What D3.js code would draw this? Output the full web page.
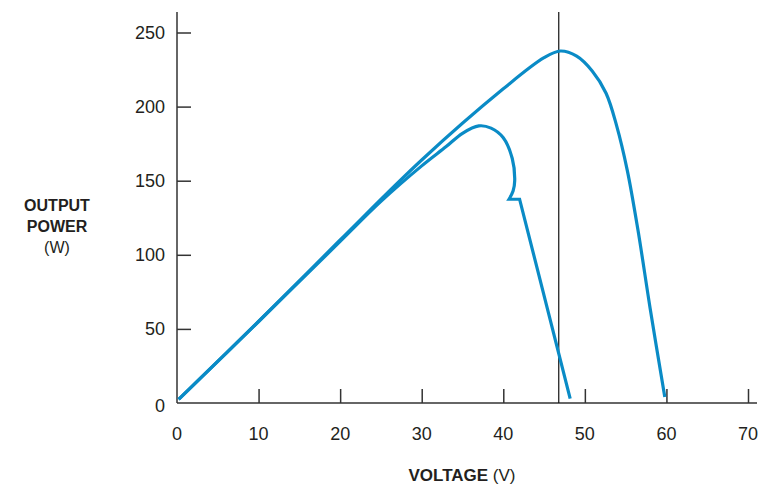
<!DOCTYPE html>
<html><head><meta charset="utf-8">
<script src="https://cdn.jsdelivr.net/npm/d3@7"></script>
<style>body{margin:0;background:#fff}svg{display:block}text{font-family:"Liberation Sans",Arial,sans-serif;fill:#231f20}</style>
</head><body><svg id="c" width="765" height="484"></svg>
<script>
const xTicks = [0,10,20,30,40,50,60,70];
const yTicks = [0,50,100,150,200,250];
const curve1 = [[0.2,2.5],[10,55],[20,110],[30,164],[40,212],[45,233],[47,237.5],[49,234],[50.9,224],[52.6,209],[53.9,187],[55.2,157],[56.5,117],[58,64],[59.8,4]];
const curve2Smooth = [[0.2,2.5],[10,55],[20,109],[25,136],[30,160],[33,173],[35,182],[37,187],[38.5,185.5],[40,179],[41.1,165],[41.4,150],[41.2,143],[40.7,137.5]];
const curve2Tail = [[40.7,137.5],[42,137.5],[44.1,92],[48.2,3]];
const markerV = 46.8;
const xLabel = ["VOLTAGE", " (V)"];
const yLabel = ["OUTPUT","POWER","(W)"];

const svg = d3.select("#c");
const x = d3.scaleLinear().domain([0,70]).range([177,748]);
const y = d3.scaleLinear().domain([0,250]).range([403,32.5]);
const axisColor = "#333";

svg.append("line").attr("x1",177).attr("x2",757).attr("y1",403).attr("y2",403).attr("stroke",axisColor).attr("stroke-width",1.5);
svg.append("line").attr("x1",177).attr("x2",177).attr("y1",12).attr("y2",403).attr("stroke",axisColor).attr("stroke-width",1.5);

const gx = svg.append("g").attr("transform","translate(0,403)")
  .call(d3.axisTop(x).tickValues(xTicks.filter(d=>d>0)).tickSize(14).tickFormat(""));
gx.select(".domain").remove();
gx.selectAll("line").attr("stroke",axisColor).attr("stroke-width",1.5);
svg.append("g").selectAll("text").data(xTicks).join("text")
  .attr("x",d=>x(d)).attr("y",440).attr("text-anchor","middle").attr("font-size",18).text(d=>d);

const gy = svg.append("g").attr("transform","translate(177,0)")
  .call(d3.axisRight(y).tickValues(yTicks.filter(d=>d>0)).tickSize(14).tickFormat(""));
gy.select(".domain").remove();
gy.selectAll("line").attr("stroke",axisColor).attr("stroke-width",1.5);
svg.append("g").selectAll("text").data(yTicks).join("text")
  .attr("x",165).attr("y",d=>d===0?y(d)+9:y(d)+6.5).attr("text-anchor","end").attr("font-size",18).text(d=>d);

svg.append("line").attr("x1",x(markerV)).attr("x2",x(markerV)).attr("y1",12).attr("y2",403).attr("stroke","#111").attr("stroke-width",1.2);

const blue = "#0a8bc6";
const smooth = d3.line().x(d=>x(d[0])).y(d=>y(d[1])).curve(d3.curveCatmullRom.alpha(0.5));
const lin = d3.line().x(d=>x(d[0])).y(d=>y(d[1]));
svg.append("path").attr("d",smooth(curve1)).attr("fill","none").attr("stroke",blue).attr("stroke-width",3.2);
svg.append("path").attr("d",smooth(curve2Smooth)+lin(curve2Tail).replace(/^M/,"L")).attr("fill","none").attr("stroke",blue).attr("stroke-width",3.2).attr("stroke-linejoin","miter");

const yt = svg.append("text").attr("text-anchor","middle").attr("font-size",16);
yt.append("tspan").attr("x",57).attr("y",211).attr("font-weight","bold").text(yLabel[0]);
yt.append("tspan").attr("x",57).attr("y",232).attr("font-weight","bold").text(yLabel[1]);
yt.append("tspan").attr("x",57).attr("y",253).text(yLabel[2]);
const xt = svg.append("text").attr("x",462).attr("y",481).attr("text-anchor","middle").attr("font-size",17);
xt.append("tspan").attr("font-weight","bold").text(xLabel[0]);
xt.append("tspan").text(xLabel[1]);
</script></body></html>
